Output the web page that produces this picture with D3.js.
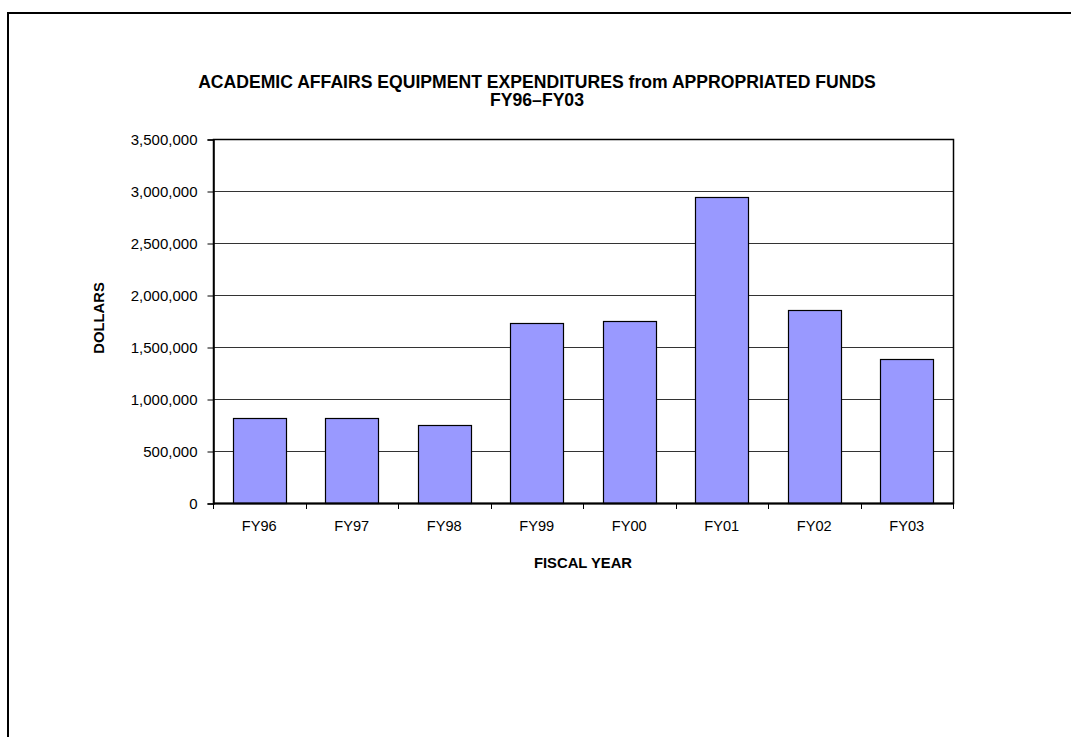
<!DOCTYPE html>
<html>
<head>
<meta charset="utf-8">
<script src="https://cdn.jsdelivr.net/npm/d3@7"></script>
<style>
  html, body { margin: 0; padding: 0; background: #fff; }
  svg { display: block; font-family: Arial, "Liberation Sans", sans-serif; }
</style>
</head>
<body>
<svg id="chart" width="1071" height="737"></svg>
<script>
// Equipment expenditures by fiscal year (dollars)
const years = ["FY96", "FY97", "FY98", "FY99", "FY00", "FY01", "FY02", "FY03"];
const dollars = [817000, 817000, 753000, 1734000, 1750000, 2939000, 1859000, 1382000];
const yTicks = [0, 500000, 1000000, 1500000, 2000000, 2500000, 3000000, 3500000];
const titleLines = ["ACADEMIC AFFAIRS EQUIPMENT EXPENDITURES from APPROPRIATED FUNDS", "FY96\u2013FY03"];

const svg = d3.select("#chart");
const plot = { left: 213, right: 953, top: 139, bottom: 503 };
const font = "Arial, 'Liberation Sans', sans-serif";

// Outer frame (runs off the right and bottom edges)
svg.append("rect")
  .attr("x", 8).attr("y", 13)
  .attr("width", 1100).attr("height", 800)
  .attr("fill", "none").attr("stroke", "#000").attr("stroke-width", 2);

const x = d3.scaleBand().domain(years).range([plot.left, plot.right]).paddingInner(0.43).paddingOuter(0.215);
const xCat = d3.scaleBand().domain(years).range([plot.left, plot.right]);
const y = d3.scaleLinear().domain([0, 3500000]).range([plot.bottom, plot.top]);

// Gridlines
svg.append("g")
  .selectAll("line")
  .data(yTicks.slice(1))
  .join("line")
  .attr("x1", plot.left).attr("x2", plot.right)
  .attr("y1", d => y(d) + 0.5).attr("y2", d => y(d) + 0.5)
  .attr("stroke", "#333").attr("stroke-width", 1);

// Bars
svg.append("g")
  .selectAll("rect")
  .data(years.map((k, i) => ({ k, v: dollars[i] })))
  .join("rect")
  .attr("x", d => Math.round(x(d.k)) + 0.5)
  .attr("y", d => Math.round(y(d.v)) + 0.5)
  .attr("width", Math.round(x.bandwidth()))
  .attr("height", d => plot.bottom - Math.round(y(d.v)))
  .attr("fill", "#9999FF")
  .attr("stroke", "#000").attr("stroke-width", 1.2);

// Plot area border
svg.append("rect")
  .attr("x", plot.left + 0.5).attr("y", plot.top + 0.5)
  .attr("width", plot.right - plot.left).attr("height", plot.bottom - plot.top)
  .attr("fill", "none").attr("stroke", "#000").attr("stroke-width", 1.5);

// Y axis
const yAxis = d3.axisLeft(y)
  .tickValues(yTicks)
  .tickFormat(d3.format(","))
  .tickSize(6)
  .tickPadding(10);
const gy = svg.append("g").attr("transform", `translate(${plot.left + 0.5},0.5)`).call(yAxis);
gy.select(".domain").attr("stroke", "#000").attr("stroke-width", 1.5);
gy.selectAll(".tick line").attr("stroke", "#000");
gy.selectAll("text").attr("font-size", 15).attr("fill", "#000").attr("font-family", font);

// X axis: tick marks at category boundaries
svg.append("line")
  .attr("x1", plot.left).attr("x2", plot.right + 1)
  .attr("y1", plot.bottom + 0.5).attr("y2", plot.bottom + 0.5)
  .attr("stroke", "#000").attr("stroke-width", 2);
const bounds = years.map(k => xCat(k)).concat([plot.right]);
svg.append("g").selectAll("line")
  .data(bounds)
  .join("line")
  .attr("x1", d => Math.round(d) + 0.5).attr("x2", d => Math.round(d) + 0.5)
  .attr("y1", plot.bottom).attr("y2", plot.bottom + 6)
  .attr("stroke", "#000").attr("stroke-width", 1);
svg.append("g").selectAll("text")
  .data(years)
  .join("text")
  .attr("x", d => xCat(d) + xCat.bandwidth() / 2)
  .attr("y", 530.5)
  .attr("text-anchor", "middle")
  .attr("font-size", 14.6)
  .attr("fill", "#000")
  .text(d => d);

// Titles
svg.append("g").selectAll("text")
  .data(titleLines)
  .join("text")
  .attr("x", 537)
  .attr("y", (d, i) => 87.5 + i * 18)
  .attr("text-anchor", "middle")
  .attr("font-size", 17.6)
  .attr("font-weight", "bold")
  .attr("fill", "#000")
  .text(d => d);

svg.append("text")
  .attr("x", 583).attr("y", 568)
  .attr("text-anchor", "middle")
  .attr("font-size", 14.8)
  .attr("font-weight", "bold")
  .text("FISCAL YEAR");

svg.append("text")
  .attr("transform", "translate(103.5,318) rotate(-90)")
  .attr("text-anchor", "middle")
  .attr("font-size", 14.8)
  .attr("font-weight", "bold")
  .text("DOLLARS");
</script>
</body>
</html>
